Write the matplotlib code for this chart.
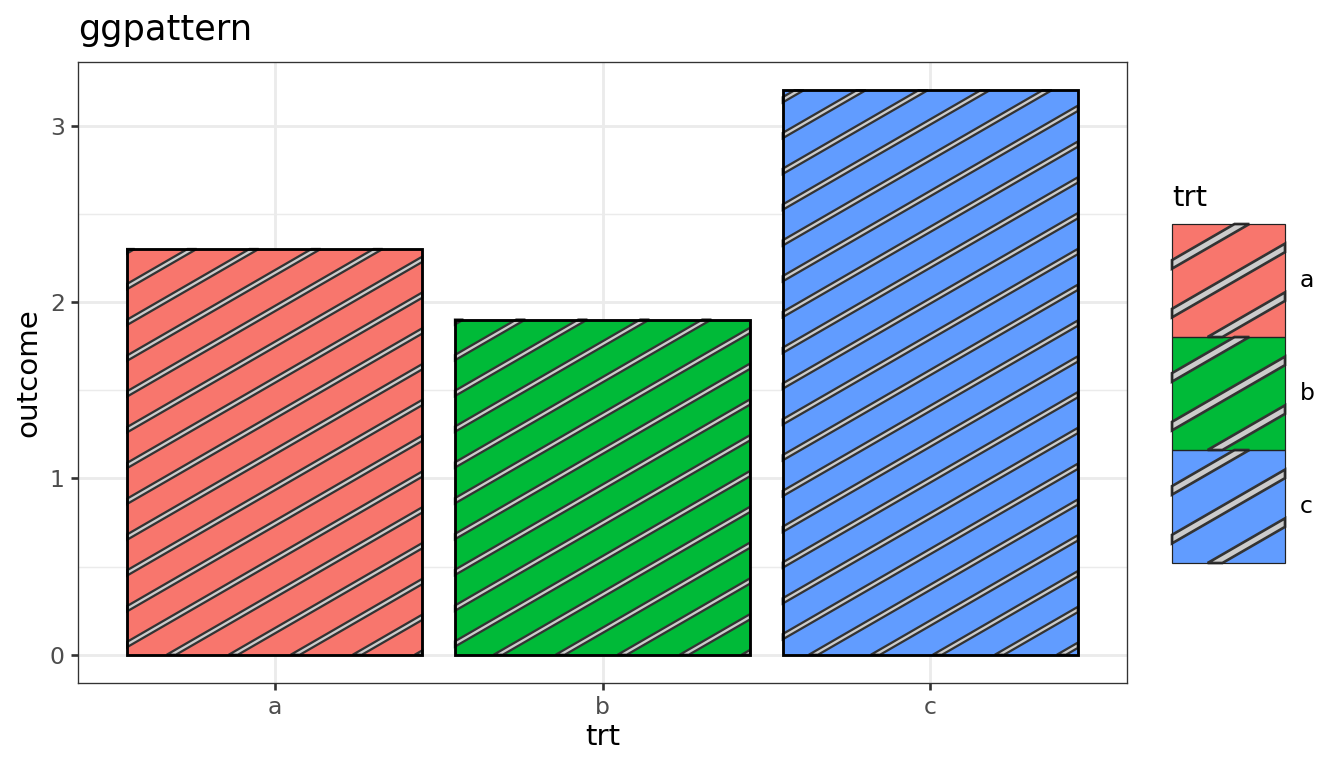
import numpy as np
import matplotlib
matplotlib.use('Agg')
import matplotlib.pyplot as plt
from matplotlib.patches import Polygon, Rectangle

# ---- data ----
categories = ['a', 'b', 'c']
outcome = [2.3, 1.9, 3.2]
fill_colors = ['#F8766D', '#00BA38', '#619CFF']
y_ticks = [0, 1, 2, 3]
y_minor = [0.5, 1.5, 2.5]
title = 'ggpattern'
x_label = 'trt'
y_label = 'outcome'
legend_title = 'trt'

W, H, DPI = 1344, 768, 192
plt.rcParams['font.family'] = ['DejaVu Sans']
fig = plt.figure(figsize=(W / DPI, H / DPI), dpi=DPI)
fig.patch.set_facecolor('white')

L, R, T, B = 78, 1127, 62, 683  # panel in pixels (y down)
ax = fig.add_axes([L / W, 1 - B / H, (R - L) / W, (B - T) / H])
x = np.arange(1, len(categories) + 1)
ax.set_xlim(0.4, len(categories) + 0.6)
ymax = max(outcome)
ax.set_ylim(-0.05 * ymax, 1.05 * ymax)

# grid / theme_bw
ax.set_axisbelow(True)
ax.set_yticks(y_ticks)
ax.set_yticks(y_minor, minor=True)
ax.set_xticks(x)
ax.set_xticklabels(categories)
ax.grid(True, which='major', color='#EBEBEB', lw=1.07, zorder=0)
ax.grid(True, which='minor', axis='y', color='#EBEBEB', lw=0.53, zorder=0)
ax.tick_params(which='major', length=2.75, width=1.0,
               color='#333333', labelcolor='#4D4D4D', labelsize=8.8, pad=2.2)
ax.tick_params(which='minor', length=0)
for s in ax.spines.values():
    s.set_color('#333333')
    s.set_linewidth(0.5)
    s.set_zorder(6)

ax.set_xlabel(x_label, fontsize=11, color='black', labelpad=1.6)
ax.set_ylabel(y_label, fontsize=11, color='black', labelpad=2.75)
fig.text(L / W, 1 - 40 / H, title, fontsize=13.2, color='black', ha='left', va='baseline')

# bars
ax.bar(x, outcome, width=0.9, color=fill_colors, edgecolor='none', zorder=2)
ax.bar(x, outcome, width=0.9, fill=False, edgecolor='black', lw=1.07, zorder=4)

inv = fig.transFigure.inverted()


def clip_poly(pts, xmin, ymin, xmax, ymax):
    def clip(points, inside, inter):
        out = []
        n = len(points)
        for i in range(n):
            cur, prev = points[i], points[i - 1]
            if inside(cur):
                if not inside(prev):
                    out.append(inter(prev, cur))
                out.append(cur)
            elif inside(prev):
                out.append(inter(prev, cur))
        return out

    def ix(xc):
        return lambda p, q: (xc, p[1] + (q[1] - p[1]) * (xc - p[0]) / (q[0] - p[0]))

    def iy(yc):
        return lambda p, q: (p[0] + (q[0] - p[0]) * (yc - p[1]) / (q[1] - p[1]), yc)

    edges = [(lambda p: p[0] >= xmin, ix(xmin)), (lambda p: p[0] <= xmax, ix(xmax)),
             (lambda p: p[1] >= ymin, iy(ymin)), (lambda p: p[1] <= ymax, iy(ymax))]
    for inside, inter in edges:
        if not pts:
            break
        pts = clip(pts, inside, inter)
    return pts


def add_stripes(target, x0, y0, x1, y1, spacing, width, angle, lw, zorder):
    cx, cy = (x0 + x1) / 2, (y0 + y1) / 2
    a = np.deg2rad(angle)
    d = np.array([np.cos(a), np.sin(a)])
    n = np.array([-np.sin(a), np.cos(a)])
    Rr = np.hypot(x1 - x0, y1 - y0)
    K = int(Rr / spacing) + 2
    for k in range(-K, K + 1):
        p = np.array([cx, cy]) + n * k * spacing
        corners = [p - d * Rr - n * width / 2, p + d * Rr - n * width / 2,
                   p + d * Rr + n * width / 2, p - d * Rr + n * width / 2]
        pts = clip_poly([tuple(c) for c in corners], x0, y0, x1, y1)
        if len(pts) >= 3:
            arr = np.array(pts)
            xs, ys = arr[:, 0], arr[:, 1]
            area = 0.5 * abs(np.dot(xs, np.roll(ys, 1)) - np.dot(ys, np.roll(xs, 1)))
            if area < 0.5:
                continue
            poly = Polygon(inv.transform(arr), closed=True, transform=fig.transFigure,
                           facecolor='#CCCCCC', edgecolor='#333333', lw=lw,
                           zorder=zorder, clip_on=False, joinstyle='miter')
            target.add_artist(poly)


fig.canvas.draw()
for xi, v in zip(x, outcome):
    (px0, py0), (px1, py1) = ax.transData.transform([(xi - 0.45, 0), (xi + 0.45, v)])
    add_stripes(ax, px0, py0, px1, py1, spacing=31.0, width=4.6, angle=30, lw=0.85, zorder=3)

# legend
kx0, kx1 = 1172, 1285
key_tops = [224, 337, 450]
key_h = 113
fig.text(kx0 / W, 1 - 206 / H, legend_title, fontsize=11, color='black', ha='left', va='baseline')
for cat, col, top in zip(categories, fill_colors, key_tops):
    yb = H - (top + key_h)
    yt = H - top
    fig.add_artist(Rectangle((kx0 / W, yb / H), (kx1 - kx0) / W, key_h / H,
                             transform=fig.transFigure, facecolor=col, edgecolor='none', zorder=2))
    add_stripes(fig, kx0, yb, kx1, yt, spacing=42.2, width=7.4, angle=30, lw=1.0, zorder=3)
    fig.add_artist(Rectangle((kx0 / W, yb / H), (kx1 - kx0) / W, key_h / H,
                             transform=fig.transFigure, facecolor='none', edgecolor='#222222',
                             lw=0.45, zorder=4))
    fig.text(1300 / W, 1 - (top + key_h / 2) / H, cat, fontsize=8.8, color='black',
             ha='left', va='center')

fig.savefig('out.png', dpi=DPI, facecolor='white')
